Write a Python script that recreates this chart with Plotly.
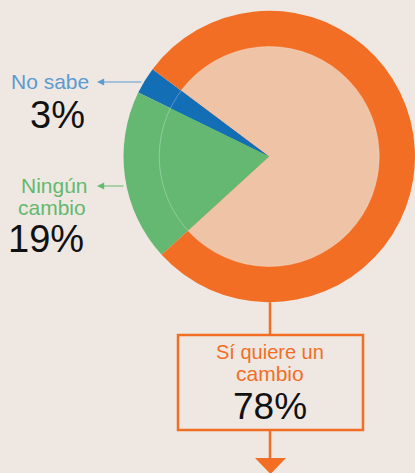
import plotly.graph_objects as go

# Survey answers: share of respondents
labels = ["No sabe", "Ningún cambio", "Sí quiere un cambio"]
values = [3, 19, 78]
label_lines = [["No sabe"], ["Ningún", "cambio"], ["Sí quiere un", "cambio"]]

W, H = 415, 473
BG = "#EFE8E2"
ORANGE = "#F26E25"
PEACH = "#EFC3A6"
GREEN = "#65B872"
BLUE = "#136EB6"
BLUE_TXT = "#5B9BD0"
GREEN_TXT = "#63B96E"
FONT = "Liberation Sans, Arial, sans-serif"

# pie geometry (pixels, y measured from the top)
cx, cy = 269.25, 156.5
r_out, r_in = 145.75, 110.0
rotation = -64


def dom(r):
    return dict(x=[(cx - r) / W, min((cx + r) / W, 1.0)],
                y=[(H - (cy + r)) / H, (H - (cy - r)) / H])


fig = go.Figure()
fig.add_trace(go.Pie(
    labels=labels, values=values, sort=False, direction="counterclockwise",
    rotation=rotation, marker=dict(colors=[BLUE, GREEN, ORANGE], line=dict(width=0)),
    textinfo="none", hoverinfo="label+percent", showlegend=False, domain=dom(r_out),
))
fig.add_trace(go.Pie(
    labels=labels, values=values, sort=False, direction="counterclockwise",
    rotation=rotation, marker=dict(colors=[BLUE, GREEN, PEACH], line=dict(width=0)),
    textinfo="none", hoverinfo="label+percent", showlegend=False, domain=dom(r_in),
))

shapes = [
    # faint inner rim
    dict(type="circle", xref="x", yref="y", x0=cx - r_in, x1=cx + r_in,
         y0=cy - r_in, y1=cy + r_in, line=dict(color="rgba(255,255,255,0.35)", width=0.8)),
    # connector to the box and the box itself
    dict(type="line", xref="x", yref="y", x0=270, x1=270, y0=cy + r_out, y1=334,
         line=dict(color=ORANGE, width=2.5)),
    dict(type="rect", xref="x", yref="y", x0=178, x1=363, y0=335, y1=430,
         line=dict(color=ORANGE, width=2.5), fillcolor="rgba(0,0,0,0)"),
    dict(type="line", xref="x", yref="y", x0=270, x1=270, y0=430, y1=460,
         line=dict(color=ORANGE, width=2.5)),
    dict(type="path", xref="x", yref="y", path="M 255 458 L 286 458 L 270.5 474 Z",
         fillcolor=ORANGE, line=dict(width=0)),
]

ann = []


def txt(x, y, s, size, color):
    ann.append(dict(x=x, y=y, xref="x", yref="y", text=s, showarrow=False,
                    font=dict(family=FONT, size=size, color=color),
                    xanchor="center", yanchor="middle"))


def arrow(x_head, x_tail, y, color):
    ann.append(dict(x=x_head, y=y, ax=x_tail, ay=y, xref="x", yref="y",
                    axref="x", ayref="y", text="", showarrow=True,
                    arrowhead=2, arrowsize=1.2, arrowwidth=1.2, arrowcolor=color,
                    standoff=0, startstandoff=0))


# No sabe
txt(50, 81, label_lines[0][0], 21, BLUE_TXT)
txt(57, 115, f"{values[0]}%", 38, "#111111")
arrow(97, 143, 82, BLUE_TXT)

# Ningún cambio
txt(54, 185, label_lines[1][0], 21, GREEN_TXT)
txt(52, 207, label_lines[1][1], 21, GREEN_TXT)
txt(46, 239, f"{values[1]}%", 38, "#111111")
arrow(97, 125, 186, GREEN_TXT)

# Sí quiere un cambio
txt(270, 352, label_lines[2][0], 20, ORANGE)
txt(270, 373, label_lines[2][1], 21, ORANGE)
txt(270, 406, f"{values[2]}%", 37, "#111111")

fig.update_layout(
    width=W, height=H, margin=dict(l=0, r=0, t=0, b=0),
    paper_bgcolor=BG, plot_bgcolor="rgba(0,0,0,0)",
    xaxis=dict(range=[0, W], visible=False, fixedrange=True),
    yaxis=dict(range=[H, 0], visible=False, fixedrange=True),
    shapes=shapes, annotations=ann,
)
fig.write_html("out.html")
